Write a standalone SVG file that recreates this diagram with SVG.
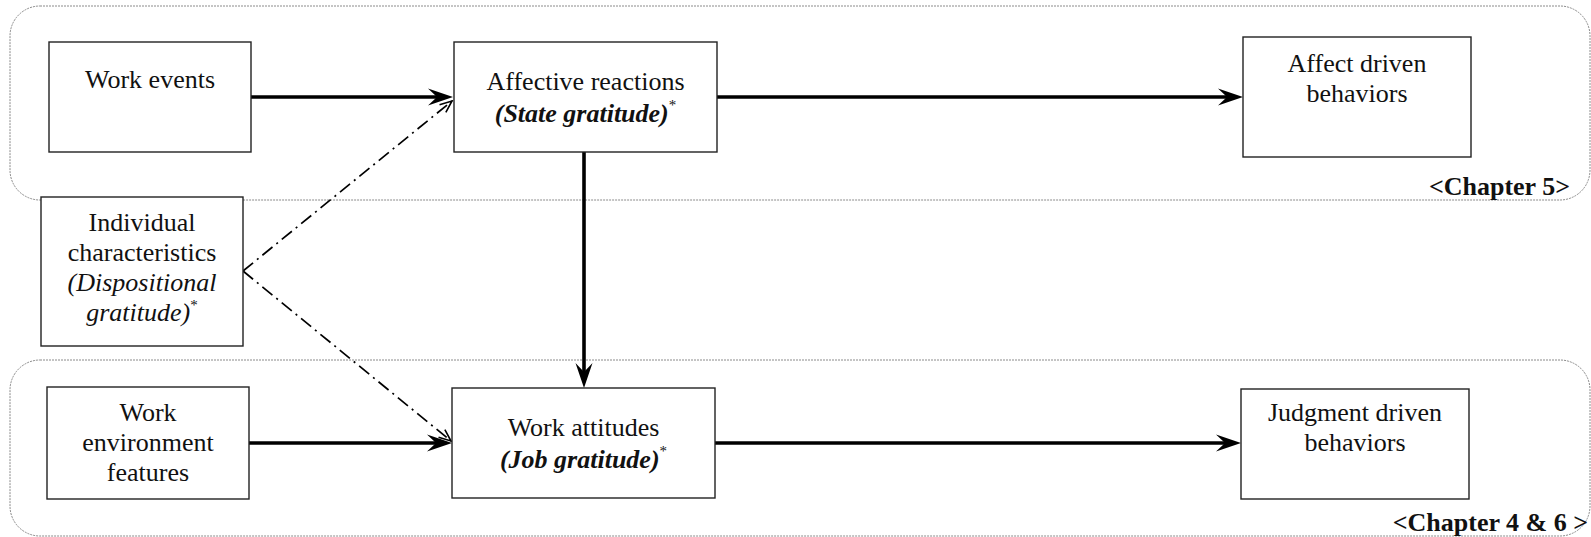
<svg xmlns="http://www.w3.org/2000/svg" width="1591" height="537" viewBox="0 0 1591 537">
<style>
.cont{fill:none;stroke:#8a8a8a;stroke-width:1;stroke-dasharray:2 1}
.box{fill:#fff;stroke:#222;stroke-width:1.4}
.t{font-family:"Liberation Serif","Times New Roman",serif;font-size:26px;fill:#111;text-anchor:middle}
.bi{font-weight:bold;font-style:italic}
.it{font-style:italic}
.sup{font-size:15px;font-weight:normal;font-style:normal}
.chap{font-family:"Liberation Serif","Times New Roman",serif;font-size:26px;font-weight:bold;fill:#111;text-anchor:end}
.arr{fill:none;stroke:#000;stroke-width:3.6}
.dd{fill:none;stroke:#000;stroke-width:1.7;stroke-dasharray:13 5 2 5}
</style>
<defs>
<marker id="stealth" markerUnits="userSpaceOnUse" markerWidth="28" markerHeight="20" viewBox="-26 -10 28 20" refX="-16" refY="0" orient="auto">
<path d="M0,0 L-25,-8.5 L-16,0 L-25,8.5 Z" fill="#000"/>
</marker>
<marker id="open" markerUnits="userSpaceOnUse" markerWidth="16" markerHeight="14" viewBox="-14 -7 16 14" refX="0" refY="0" orient="auto">
<path d="M-12,-5 L0,0 L-12,5" fill="none" stroke="#000" stroke-width="1.6"/>
</marker>
</defs>
<g id="containers">
<rect class="cont" x="10" y="6" width="1580" height="194" rx="30"/>
<rect class="cont" x="10" y="360" width="1580" height="176" rx="30"/>
<text class="chap" x="1570" y="195">&lt;Chapter 5&gt;</text>
<text class="chap" x="1588" y="531">&lt;Chapter 4 &amp; 6 &gt;</text>
</g>
<g id="connectors">
<line class="arr" x1="251" y1="97" x2="437" y2="97" marker-end="url(#stealth)"/>
<line class="arr" x1="717" y1="97" x2="1227" y2="97" marker-end="url(#stealth)"/>
<line class="arr" x1="584" y1="152" x2="584" y2="372" marker-end="url(#stealth)"/>
<line class="arr" x1="249" y1="443" x2="436" y2="443" marker-end="url(#stealth)"/>
<line class="arr" x1="715" y1="443" x2="1225" y2="443" marker-end="url(#stealth)"/>
<line class="dd" x1="243" y1="271" x2="452" y2="101" marker-end="url(#open)"/>
<line class="dd" x1="243" y1="271" x2="451" y2="441" marker-end="url(#open)"/>
</g>
<g id="work-events">
<rect class="box" x="49" y="42" width="202" height="110"/>
<text class="t" x="150" y="88">Work events</text>
</g>
<g id="affective-reactions">
<rect class="box" x="454" y="42" width="263" height="110"/>
<text class="t" x="585.5" y="90">Affective reactions</text>
<text class="t bi" x="585.5" y="122">(State gratitude)<tspan class="sup" dy="-12">*</tspan></text>
</g>
<g id="affect-driven-behaviors">
<rect class="box" x="1243" y="37" width="228" height="120"/>
<text class="t" x="1357" y="72">Affect driven</text>
<text class="t" x="1357" y="102">behaviors</text>
</g>
<g id="individual-characteristics">
<rect class="box" x="41" y="197" width="202" height="149"/>
<text class="t" x="142" y="231">Individual</text>
<text class="t" x="142" y="261">characteristics</text>
<text class="t it" x="142" y="291">(Dispositional</text>
<text class="t it" x="142" y="321">gratitude)<tspan class="sup" dy="-11">*</tspan></text>
</g>
<g id="work-environment-features">
<rect class="box" x="47" y="387" width="202" height="112"/>
<text class="t" x="148" y="421">Work</text>
<text class="t" x="148" y="451">environment</text>
<text class="t" x="148" y="481">features</text>
</g>
<g id="work-attitudes">
<rect class="box" x="452" y="388" width="263" height="110"/>
<text class="t" x="583.5" y="436">Work attitudes</text>
<text class="t bi" x="583.5" y="468">(Job gratitude)<tspan class="sup" dy="-12">*</tspan></text>
</g>
<g id="judgment-driven-behaviors">
<rect class="box" x="1241" y="389" width="228" height="110"/>
<text class="t" x="1355" y="421">Judgment driven</text>
<text class="t" x="1355" y="451">behaviors</text>
</g>
</svg>
